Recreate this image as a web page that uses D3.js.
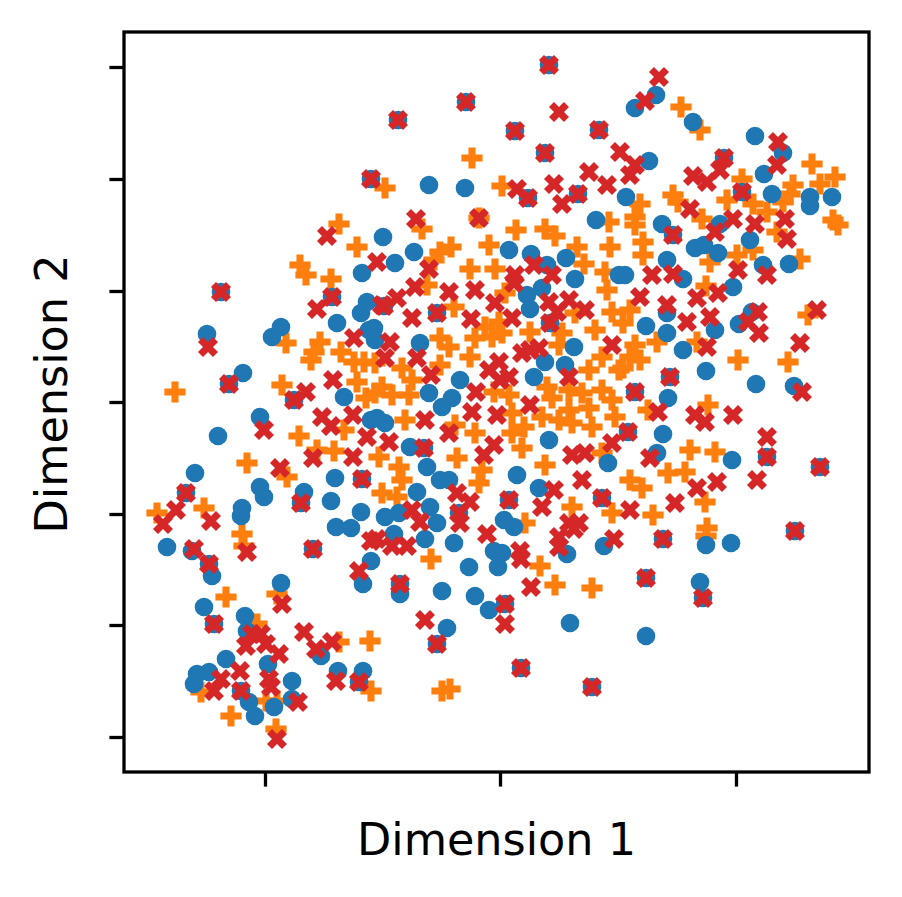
<!DOCTYPE html>
<html>
<head>
<meta charset="utf-8">
<script src="https://cdn.jsdelivr.net/npm/d3@7"></script>
<style>
  body { margin: 0; background: #fff; }
  text { font-family: "DejaVu Sans", sans-serif; }
</style>
</head>
<body>
<script>
// values, in the plot's own units (x 0..74.5, y 0..74)
var blue = [
  [23.8,49.9],[42.5,70.7],[34.2,67.0],[27.4,65.2],[39.1,64.1],[47.5,64.2],[42.1,61.9],[24.7,59.3],
  [30.5,58.7],[34.1,58.4],[40.4,57.4],[45.4,57.8],[47.2,55.2],[25.9,53.5],[38.5,52.2],[40.7,51.8],
  [44.2,51.4],[49.5,49.7],[29.0,52.0],[27.1,50.9],[42.3,50.7],[45.1,49.3],[53.2,67.7],[51.1,66.4],
  [56.9,65.0],[63.1,63.6],[65.9,61.9],[64.0,59.8],[52.5,61.1],[60.0,61.4],[61.8,58.0],[64.8,57.8],
  [68.6,57.5],[68.6,56.6],[70.8,57.5],[50.2,57.5],[59.6,54.8],[62.6,53.2],[53.8,54.8],[54.9,53.7],
  [57.1,52.4],[58.0,52.7],[59.4,51.9],[54.3,51.2],[63.9,50.7],[66.5,50.8],[50.1,49.7],[55.9,49.3],
  [9.7,48.0],[8.3,43.8],[14.8,43.5],[15.7,44.5],[20.8,47.5],[21.3,44.9],[23.7,45.9],[24.3,47.0],
  [24.5,44.2],[11.9,39.9],[10.5,38.8],[17.0,37.2],[22.0,37.5],[13.6,35.5],[9.4,33.6],[24.7,35.2],
  [7.1,29.9],[21.1,29.4],[23.8,29.3],[6.2,27.9],[13.6,28.5],[14.0,27.5],[18.0,28.0],[17.7,26.9],
  [20.7,27.1],[23.7,26.0],[11.8,26.4],[11.7,25.6],[21.2,24.5],[22.7,24.4],[26.0,46.6],[31.3,45.9],
  [40.3,47.7],[41.8,48.4],[40.6,46.3],[42.6,44.9],[25.0,44.4],[25.1,43.2],[29.6,42.9],[42.1,41.0],
  [44.1,40.7],[45.0,42.5],[41.0,39.5],[33.6,39.2],[30.5,37.9],[32.8,37.4],[31.8,36.5],[25.3,35.4],
  [26.1,34.9],[42.5,33.2],[28.6,32.5],[30.0,32.4],[48.4,30.9],[30.3,30.5],[39.3,29.7],[31.6,29.2],
  [32.5,29.2],[29.3,28.0],[41.5,28.4],[38.5,27.2],[47.8,27.4],[30.6,26.5],[26.1,25.5],[27.5,25.9],
  [31.3,24.9],[33.5,25.9],[38.0,25.2],[39.0,24.5],[60.9,48.5],[54.3,45.9],[52.2,44.6],[54.3,43.9],
  [59.1,44.2],[62.8,46.0],[61.5,44.8],[55.9,42.2],[58.2,40.1],[54.6,39.5],[63.2,38.8],[67.0,38.6],
  [51.1,38.0],[54.4,37.4],[50.4,34.0],[53.9,33.8],[64.3,31.5],[60.8,31.2],[53.3,31.9],[69.6,30.5],
  [4.3,22.5],[6.8,22.1],[8.5,20.8],[8.8,19.6],[18.9,22.3],[24.7,21.1],[23.9,18.8],[15.7,18.9],
  [8.0,16.5],[9.0,14.8],[12.1,15.6],[12.3,14.1],[19.7,11.6],[10.2,11.3],[7.3,9.8],[8.5,10.0],
  [7.0,8.8],[11.7,8.1],[12.5,7.0],[13.1,5.6],[14.4,10.8],[15.0,6.5],[16.8,9.1],[16.8,7.3],
  [21.4,10.1],[23.9,10.1],[23.5,9.0],[27.0,23.8],[30.1,23.3],[33.0,22.9],[34.5,20.5],[37.0,22.1],
  [37.8,21.9],[37.4,20.5],[44.3,21.8],[48.0,22.6],[27.6,18.8],[27.6,17.8],[31.8,18.1],[35.1,17.6],
  [36.5,16.2],[38.1,16.8],[32.3,14.4],[31.3,12.8],[44.6,14.9],[39.7,10.4],[46.8,8.5],[53.9,23.3],
  [58.2,22.7],[60.7,22.9],[67.1,24.1],[52.2,19.4],[57.6,19.0],[57.9,17.4],[52.2,13.6]
];

var orange = [
  [21.5,54.8],[23.3,52.5],[17.6,50.7],[18.2,49.7],[20.7,49.3],[34.8,61.4],[26.1,58.4],[37.8,58.6],
  [29.8,54.3],[35.5,55.4],[48.5,55.0],[39.2,54.2],[42.1,54.3],[43.1,53.6],[32.7,52.5],[31.6,52.0],
  [31.0,51.2],[36.5,52.7],[45.3,52.5],[46.0,50.8],[48.6,52.5],[48.1,50.0],[34.6,50.3],[37.1,50.3],
  [55.7,66.5],[57.6,64.2],[61.8,59.3],[66.9,58.7],[68.8,60.8],[71.1,59.5],[69.6,58.8],[66.6,57.8],
  [65.9,57.0],[70.9,55.2],[71.4,54.7],[54.9,57.7],[55.4,57.0],[51.6,56.8],[51.1,55.5],[51.1,54.7],
  [57.8,55.3],[60.3,57.2],[62.9,56.8],[64.3,56.0],[65.3,54.0],[51.9,53.0],[51.9,51.7],[61.3,51.7],
  [62.9,52.2],[58.6,51.0],[67.6,51.3],[16.2,42.9],[19.6,43.0],[19.0,42.0],[18.7,41.2],[21.7,42.0],
  [23.0,41.0],[24.0,41.0],[23.3,39.0],[24.2,37.4],[5.1,38.0],[15.8,38.7],[17.5,33.6],[22.0,34.2],
  [21.0,32.1],[19.3,32.2],[12.3,30.9],[16.3,29.5],[8.0,26.4],[3.3,25.9],[30.3,48.7],[38.1,47.9],
  [48.3,48.2],[33.0,46.5],[36.1,44.5],[37.5,45.0],[45.1,45.9],[48.8,46.0],[40.6,44.0],[43.8,43.9],
  [47.1,44.2],[31.6,43.4],[32.5,42.5],[31.6,40.7],[35.1,43.4],[36.8,43.5],[37.8,43.9],[34.6,41.5],
  [43.5,42.7],[47.8,41.5],[46.5,40.2],[49.5,40.2],[27.8,40.4],[25.1,40.9],[28.8,39.2],[25.8,38.5],
  [26.8,37.7],[25.1,37.9],[28.5,37.7],[37.0,38.0],[38.5,37.7],[38.8,35.9],[42.3,38.5],[42.8,37.4],
  [44.5,38.2],[45.8,37.9],[47.8,38.2],[48.8,37.2],[46.5,36.4],[44.5,36.2],[41.8,35.5],[43.5,35.2],
  [44.8,34.9],[46.8,34.5],[49.1,35.5],[28.1,35.2],[33.1,34.7],[35.1,33.9],[40.0,34.5],[38.8,33.9],
  [39.8,32.4],[25.5,31.5],[33.3,31.4],[47.8,31.9],[42.1,30.7],[27.5,30.5],[35.8,30.2],[35.5,28.9],
  [27.8,29.2],[25.8,27.9],[27.3,27.5],[44.8,26.5],[48.8,25.9],[40.1,24.9],[58.2,48.6],[50.6,46.2],
  [49.9,44.9],[68.4,45.7],[66.4,41.0],[61.4,41.2],[53.3,43.0],[51.1,42.7],[50.6,41.5],[51.6,41.2],
  [49.9,40.4],[57.3,43.0],[58.4,36.7],[52.4,36.2],[59.1,32.0],[56.6,32.2],[54.4,29.9],[56.1,30.0],
  [50.6,29.2],[51.8,28.4],[58.1,27.0],[52.9,25.7],[58.3,24.4],[11.8,23.8],[12.0,22.6],[15.3,17.8],
  [10.2,17.5],[13.3,14.8],[21.5,13.0],[24.6,13.1],[7.7,8.0],[10.7,5.6],[14.2,7.1],[15.3,7.1],
  [15.2,4.3],[24.7,8.1],[30.7,21.3],[41.6,20.6],[43.1,18.7],[46.8,18.4],[31.8,8.1],[32.6,8.3],
  [58.2,23.6]
];

var red = [
  [20.3,53.6],[42.5,70.7],[34.2,67.0],[27.4,65.2],[39.1,64.1],[47.5,64.2],[42.1,61.9],[24.7,59.3],
  [40.4,57.4],[45.4,57.8],[43.5,66.0],[49.6,62.0],[39.3,58.3],[43.0,58.8],[43.8,56.8],[46.5,60.0],
  [48.3,58.7],[29.2,55.3],[35.5,55.4],[25.3,51.0],[30.5,50.3],[41.0,50.7],[39.1,49.7],[42.8,49.7],
  [53.5,69.5],[52.1,67.1],[65.4,63.0],[65.3,60.7],[51.1,60.7],[50.6,59.7],[60.0,61.4],[59.6,60.2],
  [56.9,59.6],[58.3,59.0],[61.8,58.0],[56.6,56.3],[60.9,55.3],[63.1,54.8],[66.1,55.3],[66.3,53.3],
  [59.1,54.0],[54.9,53.7],[61.4,50.2],[64.3,49.7],[52.8,49.7],[54.9,49.8],[9.7,48.0],[8.4,42.5],
  [19.3,46.3],[20.8,47.5],[23.0,43.4],[10.5,38.8],[18.2,38.0],[17.0,37.2],[20.9,39.2],[14.0,34.2],
  [19.8,35.5],[20.7,34.6],[22.9,35.7],[24.3,33.5],[18.9,31.4],[22.9,31.5],[15.6,30.4],[23.8,29.3],
  [6.2,27.9],[17.7,26.9],[5.2,26.2],[3.9,24.8],[8.7,25.1],[29.1,48.5],[32.5,48.0],[35.1,48.2],
  [39.0,48.9],[25.8,46.7],[27.3,47.4],[26.0,46.6],[28.8,45.4],[31.3,45.9],[34.7,45.3],[37.1,46.9],
  [38.8,45.4],[42.5,47.0],[43.3,46.0],[44.5,47.2],[46.1,46.2],[42.6,44.9],[26.6,43.0],[26.1,41.4],
  [29.3,41.4],[36.5,40.2],[37.5,41.0],[38.5,39.5],[37.6,39.2],[39.8,41.9],[40.6,42.2],[41.5,42.4],
  [48.8,42.7],[44.5,39.5],[30.7,39.7],[35.2,38.0],[34.8,36.0],[37.3,35.7],[40.6,36.7],[30.1,35.2],
  [32.5,33.9],[26.5,33.0],[30.0,32.4],[37.0,32.7],[36.0,31.7],[44.8,31.7],[46.1,31.9],[48.8,32.9],
  [45.8,29.2],[33.3,27.9],[34.6,27.0],[43.0,28.2],[38.5,27.2],[41.8,26.5],[47.8,27.4],[28.8,26.2],
  [29.6,25.0],[33.5,25.9],[33.6,24.9],[44.5,24.9],[45.5,24.9],[59.4,47.9],[51.6,47.5],[54.3,46.7],
  [57.3,47.4],[56.3,45.0],[58.6,45.5],[63.4,46.0],[62.4,45.0],[63.5,43.9],[69.3,46.2],[67.6,42.9],
  [58.3,42.5],[54.6,39.5],[67.8,38.0],[51.1,38.0],[53.4,36.0],[57.1,35.7],[58.1,35.0],[60.9,35.7],
  [50.4,34.0],[64.3,33.5],[64.3,31.5],[52.6,31.4],[69.6,30.5],[63.3,29.2],[59.3,29.0],[57.3,28.4],
  [55.1,26.9],[50.6,26.2],[7.0,22.3],[8.5,20.8],[12.3,22.0],[18.9,22.3],[24.7,23.1],[23.5,20.1],
  [15.8,16.8],[9.0,14.8],[12.8,13.8],[13.7,13.8],[12.2,12.6],[14.2,12.8],[15.5,11.8],[18.0,14.0],
  [19.2,12.3],[20.8,13.0],[9.0,8.1],[9.7,9.3],[11.6,10.1],[11.7,8.1],[14.5,9.3],[14.7,8.5],
  [17.4,7.0],[15.3,3.3],[21.2,9.1],[23.5,9.0],[36.3,23.8],[25.3,23.3],[26.8,22.6],[28.3,22.6],
  [39.6,22.1],[39.7,21.3],[40.7,18.5],[43.5,23.5],[45.0,24.3],[43.5,22.5],[49.0,23.3],[27.6,18.8],
  [38.1,16.8],[38.1,14.8],[30.1,15.2],[31.3,12.8],[39.7,10.4],[46.8,8.5],[53.9,23.3],[67.1,24.1],
  [52.2,19.4],[57.9,17.4]
];

var xTicks = [14.1, 37.6, 61.2];
var yTicks = [3.5, 14.7, 25.8, 37.0, 48.1, 59.3, 70.5];

var W = 902, H = 897;
var plot = { left: 124, top: 32, right: 869, bottom: 772 };

var svg = d3.select('body').append('svg')
  .attr('width', W)
  .attr('height', H);

var x = d3.scaleLinear().domain([0, 74.5]).range([plot.left, plot.right]);
var y = d3.scaleLinear().domain([0, 74]).range([plot.bottom, plot.top]);

svg.append('clipPath').attr('id', 'clip')
  .append('rect')
    .attr('x', plot.left)
    .attr('y', plot.top)
    .attr('width', plot.right - plot.left)
    .attr('height', plot.bottom - plot.top);

var marks = svg.append('g').attr('clip-path', 'url(#clip)');

var cross = d3.symbol().type(d3.symbolCross).size(250);

// orange filled plus
marks.append('g').selectAll('path')
  .data(orange)
  .enter()
  .append('path')
    .attr('d', cross)
    .attr('transform', function(d) { return 'translate(' + x(d[0]) + ',' + y(d[1]) + ')'; })
    .attr('fill', '#ff7f0e');

// blue dots
marks.append('g').selectAll('circle')
  .data(blue)
  .enter()
  .append('circle')
    .attr('cx', function(d) { return x(d[0]); })
    .attr('cy', function(d) { return y(d[1]); })
    .attr('r', 9.3)
    .attr('fill', '#1f77b4');

// red filled x
marks.append('g').selectAll('path')
  .data(red)
  .enter()
  .append('path')
    .attr('d', cross)
    .attr('transform', function(d) {
      return 'translate(' + x(d[0]) + ',' + y(d[1]) + ') rotate(45)';
    })
    .attr('fill', '#d62728');

// axes
var xAxis = d3.axisBottom(x).tickValues(xTicks).tickSize(14.6).tickFormat('');
var yAxis = d3.axisLeft(y).tickValues(yTicks).tickSize(14.6).tickFormat('');

var gx = svg.append('g')
  .attr('transform', 'translate(0,' + plot.bottom + ')')
  .call(xAxis);
var gy = svg.append('g')
  .attr('transform', 'translate(' + plot.left + ',0)')
  .call(yAxis);

[gx, gy].forEach(function(g) {
  g.select('.domain').remove();
  g.selectAll('.tick line')
    .attr('stroke', '#000')
    .attr('stroke-width', 3.3);
});

svg.append('rect')
  .attr('x', plot.left)
  .attr('y', plot.top)
  .attr('width', plot.right - plot.left)
  .attr('height', plot.bottom - plot.top)
  .attr('fill', 'none')
  .attr('stroke', '#000')
  .attr('stroke-width', 3.3);

svg.append('text')
  .text('Dimension 1')
  .attr('x', (plot.left + plot.right) / 2)
  .attr('y', 855)
  .attr('text-anchor', 'middle')
  .style('font-size', '44.5px');

svg.append('text')
  .text('Dimension 2')
  .attr('transform', 'translate(67,394) rotate(-90)')
  .attr('text-anchor', 'middle')
  .style('font-size', '44.5px');
</script>
</body>
</html>
